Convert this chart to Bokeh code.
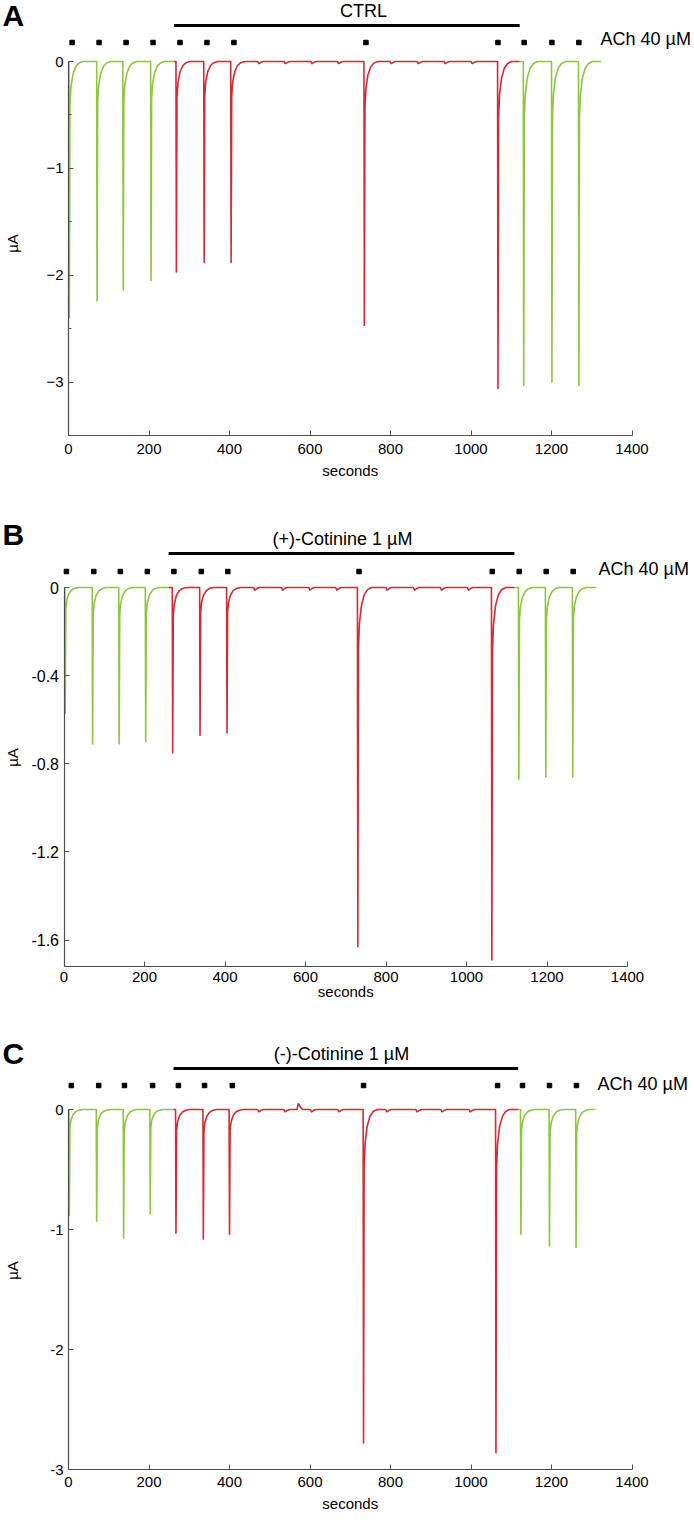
import math
from bokeh.plotting import figure
from bokeh.layouts import column
from bokeh.models import Label, FixedTicker, Range1d
from bokeh.embed import file_html
from bokeh.resources import INLINE

FONT = "Liberation Sans"
GREEN = "#8DC63F"
RED = "#D42A35"
AXIS = "#4d4d4d"

# ---------------- data ----------------
SECONDS_TICKS = [0, 200, 400, 600, 800, 1000, 1200, 1400]
STIM_LABEL = "ACh 40 µM"

# shape of one ACh response: seconds after onset, fraction of the peak
RESP_DT = [0, 1, 2.5, 5, 10, 17, 25, 35]
RESP_FRAC = [0, 1, 0.17, 0.10, 0.05, 0.02, 0.006, 0]
# shape of the small baseline deflections between sweeps
DIP_DT = [0, 3, 8, 14]
DIP_FRAC = [0, 1, 0.4, 0]

# Panel A : CTRL
A_title = "CTRL"
A_onset = [1, 70, 135, 204, 267, 336, 403, 734, 1066, 1130, 1200, 1267]
A_peak = [-2.40, -2.24, -2.14, -2.05, -1.97, -1.88, -1.88, -2.47, -3.06, -3.03, -3.00, -3.03]
A_stim = [9, 76, 143, 210, 277, 344, 411, 739, 1067, 1132, 1201, 1268]
A_drug = [262, 1121]
A_dip_t = [470, 536, 602, 668, 799, 866, 933, 1000]
A_dip_v = [-0.02, -0.02, -0.02, -0.02, -0.02, -0.02, -0.02, -0.02]
A_end = 1323
A_yticks = [-3, -2, -1, 0]
A_ylabels = ["−3", "−2", "−1", "0"]
A_yminor = [-2.5, -1.5, -0.5]

# Panel B : (+)-Cotinine 1 µM
B_title = "(+)-Cotinine 1 µM"
B_onset = [2, 70, 136, 202, 269, 337, 404, 729, 1062, 1129, 1196, 1263]
B_peak = [-0.57, -0.71, -0.71, -0.70, -0.75, -0.67, -0.66, -1.63, -1.69, -0.87, -0.86, -0.86]
B_stim = [6, 74, 140, 207, 273, 341, 407, 733, 1064, 1131, 1198, 1265]
B_drug = [260, 1119]
B_dip_t = [471, 540, 608, 675, 800, 868, 935, 1002]
B_dip_v = [-0.012, -0.012, -0.012, -0.012, -0.012, -0.012, -0.012, -0.012]
B_end = 1323
B_yticks = [-1.6, -1.2, -0.8, -0.4, 0]
B_ylabels = ["-1.6", "-1.2", "-0.8", "-0.4", "0"]
B_yminor = []

# Panel C : (-)-Cotinine 1 µM
C_title = "(-)-Cotinine 1 µM"
C_onset = [1, 69, 136, 202, 266, 334, 399, 732, 1061, 1123, 1194, 1260]
C_peak = [-0.88, -0.93, -1.07, -0.87, -1.03, -1.08, -1.04, -2.78, -2.86, -1.04, -1.14, -1.15]
C_stim = [7, 75, 139, 209, 273, 338, 407, 733, 1066, 1128, 1195, 1262]
C_drug = [261, 1117]
C_dip_t = [470, 535, 568, 601, 669, 788, 863, 925, 995]
C_dip_v = [-0.02, -0.02, 0.05, -0.02, -0.02, -0.02, -0.02, -0.02, -0.02]
C_end = 1309
C_yticks = [-3, -2, -1, 0]
C_ylabels = ["-3", "-2", "-1", "0"]
C_yminor = []

# ---------------- layout (pixels) ----------------
PAGE_W = 694
PPS = 563.5 / 1400.0  # pixels per second on the time axis


def trace_points(onsets, peaks, dip_t, dip_v, drug, end):
    pts = {0.0: 0.0, float(end): 0.0, float(drug[0]): 0.0, float(drug[1]): 0.0}
    for t0, pk in zip(onsets, peaks):
        for dt, f in zip(RESP_DT, RESP_FRAC):
            pts[t0 + dt] = pk * f
    for t0, d in zip(dip_t, dip_v):
        for dt, f in zip(DIP_DT, DIP_FRAC):
            pts[t0 + dt] = d * f
    ts = sorted(pts)
    return ts, [pts[t] for t in ts]


def make_panel(letter, title, onset, peak, stim, drug, dip_t, dip_v, end,
               yticks, ylabels, yminor, g):
    ax_x = g["axx"]
    top_ref, zero_ref, bot_ref, fig_bot_ref = g["top"], g["zero"], g["bot"], g["figbot"]
    y_bottom = g["ybottom"]
    ppu = (bot_ref - zero_ref) / (-y_bottom)

    def X(ref_x):
        return (ref_x - ax_x) / PPS

    def Y(ref_y):
        return (zero_ref - ref_y) / ppu

    p = figure(width=PAGE_W, height=fig_bot_ref - top_ref,
               min_border=0, min_border_left=0, min_border_right=0,
               min_border_top=0, min_border_bottom=0,
               x_range=Range1d(X(0), X(PAGE_W)),
               y_range=Range1d(Y(fig_bot_ref), Y(top_ref)),
               output_backend="svg", toolbar_location=None, tools="")
    p.outline_line_color = None
    p.grid.visible = False
    p.background_fill_color = "white"
    p.border_fill_color = "white"

    ts, ys = trace_points(onset, peak, dip_t, dip_v, drug, end)
    pre = [(t, y) for t, y in zip(ts, ys) if t <= drug[0]]
    mid = [(t, y) for t, y in zip(ts, ys) if drug[0] <= t <= drug[1]]
    post = [(t, y) for t, y in zip(ts, ys) if t >= drug[1]]
    for seg, col in ((pre, GREEN), (post, GREEN), (mid, RED)):
        p.line([a for a, b in seg], [b for a, b in seg], line_color=col,
               line_width=1.6, line_join="round")

    # stimulus marks and drug bar
    p.scatter(stim, [Y(g["dots"])] * len(stim), marker="square", size=4.5,
              fill_color="black", line_color="black")
    p.segment(x0=[drug[0]], x1=[drug[1]], y0=[Y(g["bar"])], y1=[Y(g["bar"])],
              line_width=3, line_color="black")

    # axes, drawn at fixed places inside the frame
    xa = p.xaxis[0]
    xa.ticker = FixedTicker(ticks=SECONDS_TICKS)
    xa.bounds = (0, 1400)
    xa.fixed_location = y_bottom
    ya = p.yaxis[0]
    ya.ticker = FixedTicker(ticks=yticks, minor_ticks=yminor)
    ya.bounds = (y_bottom, 0)
    ya.fixed_location = 0
    ya.major_label_overrides = {t: s for t, s in zip(yticks, ylabels)}
    for ax in (xa, ya):
        ax.axis_line_color = AXIS
        ax.axis_line_width = 1.2
        ax.major_tick_line_color = AXIS
        ax.minor_tick_line_color = AXIS
        ax.major_tick_in = 5
        ax.major_tick_out = 0
        ax.minor_tick_in = 3 if (ax is ya and yminor) else 0
        ax.minor_tick_out = 0
        ax.major_label_text_font = FONT
        ax.major_label_text_font_size = "15px"
        ax.major_label_text_color = "black"
    ya.major_label_text_font_size = g["yfont"]
    ya.major_label_standoff = 5
    xa.major_label_standoff = g["xstand"]

    def label(x, y, text, size, **kw):
        p.add_layout(Label(x=x, y=y, text=text, text_font=FONT, text_font_size=size,
                           text_color="black", text_baseline="middle", **kw))

    label(X(2), Y(g["letter"]), letter, "30px", text_font_style="bold", text_align="left")
    label(X(g["tcx"]), Y(g["title"]), title, "18px", text_align="center")
    label(X(g["achx"]), Y(g["ach"]), STIM_LABEL, "18px", text_align="left")
    label(X(12), Y(g["mu"]), "µA", "15px", angle=math.pi / 2, text_align="center")
    label(700, Y(g["secy"]), "seconds", "15px", text_align="center")
    return p


GA = dict(axx=68, top=0, zero=61, bot=435, figbot=490, ybottom=-3.5,
          dots=42, bar=25, letter=15, tcx=363, title=10.5, achx=600, ach=38.5,
          mu=243, secy=470, xstand=8, yfont="15px")
GB = dict(axx=63.5, top=490, zero=587, bot=966, figbot=1010, ybottom=-1.72,
          dots=571, bar=553, letter=533.5, tcx=342, title=538.5, achx=598, ach=568,
          mu=757, secy=991, xstand=5, yfont="16px")
GC = dict(axx=68, top=1010, zero=1109, bot=1469, figbot=1518, ybottom=-3.0,
          dots=1085, bar=1068, letter=1052.5, tcx=341, title=1053.5, achx=597, ach=1083,
          mu=1270, secy=1503, xstand=7, yfont="15px")

pa = make_panel("A", A_title, A_onset, A_peak, A_stim, A_drug, A_dip_t, A_dip_v, A_end,
                A_yticks, A_ylabels, A_yminor, GA)
pb = make_panel("B", B_title, B_onset, B_peak, B_stim, B_drug, B_dip_t, B_dip_v, B_end,
                B_yticks, B_ylabels, B_yminor, GB)
pc = make_panel("C", C_title, C_onset, C_peak, C_stim, C_drug, C_dip_t, C_dip_v, C_end,
                C_yticks, C_ylabels, C_yminor, GC)

layout = column(pa, pb, pc, spacing=0)
open("out.html", "w").write(file_html(layout, INLINE))
